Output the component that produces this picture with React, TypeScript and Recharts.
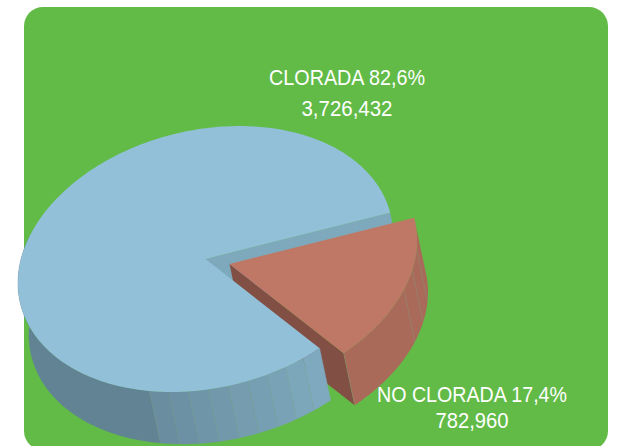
import React from "react";
import { PieChart, Pie } from "recharts";

const categories = ["CLORADA", "NO CLORADA"];
const values = [3726432, 782960];

const chartData = categories.map((name, i) => ({ name, value: values[i] }));

const W = 622;
const H = 446;
const CX = 205.5;
const CY = 259;
const R = 187.5;
const SHEAR = 0.128; // tilt of the ellipse
const SQUASH = 0.6975;
const DEPTH = { x: 11, y: 52 };
const EXPLODE = { x: 24, y: 5 };

const GREEN = "#62bb47";
const BLUE_TOP = "#91c0d8";
const BLUE_INNER = "#7ea8bc";
const RED_TOP = "#bf7865";
const RED_INNER = "#824f44";
const RED_WALL = "#a96a5a";
const SEAM = "#7f9f7f";
const FONT = "'Liberation Sans', sans-serif";

type Pt = { x: number; y: number };

const project = (cx: number, cy: number, r: number, deg: number, o: Pt = { x: 0, y: 0 }): Pt => {
  const t = (deg * Math.PI) / 180;
  return {
    x: cx + o.x + r * Math.cos(t),
    y: cy + o.y - SHEAR * r * Math.cos(t) - SQUASH * r * Math.sin(t),
  };
};

const arcPts = (cx: number, cy: number, r: number, a1: number, a2: number, o: Pt = { x: 0, y: 0 }) => {
  const n = Math.max(2, Math.ceil(Math.abs(a2 - a1)));
  const pts: Pt[] = [];
  for (let i = 0; i <= n; i++) pts.push(project(cx, cy, r, a1 + ((a2 - a1) * i) / n, o));
  return pts;
};

const toPath = (pts: Pt[]) =>
  pts.map((p, i) => `${i ? "L" : "M"}${p.x.toFixed(2)} ${p.y.toFixed(2)}`).join("") + "Z";

const shifted = (p: Pt, o: Pt): Pt => ({ x: p.x + o.x, y: p.y + o.y });

const mix = (a: number[], b: number[], t: number) =>
  `rgb(${a.map((v, i) => Math.round(v + (b[i] - v) * t)).join(",")})`;

const wallPath = (cx: number, cy: number, r: number, a1: number, a2: number, o: Pt = { x: 0, y: 0 }) => {
  const top = arcPts(cx, cy, r, a1, a2, o);
  const bottom = top.map((p) => shifted(p, DEPTH)).reverse();
  return toPath([...top, ...bottom]);
};

const facetLine = (cx: number, cy: number, r: number, a: number, o: Pt = { x: 0, y: 0 }) => {
  const p = project(cx, cy, r, a, o);
  const q = shifted(p, DEPTH);
  return `M${p.x.toFixed(2)} ${p.y.toFixed(2)}L${q.x.toFixed(2)} ${q.y.toFixed(2)}`;
};

const renderLayer = (layer: number) => (props: any) => {
  const { cx, cy, outerRadius: r, startAngle: s, endAngle: e, name } = props;
  const isBlue = name === categories[0];
  if (layer === 0) {
    if (!isBlue) return <g />;
    const c = { x: cx, y: cy };
    const p = project(cx, cy, r, s);
    return (
      <path
        d={toPath([c, p, shifted(p, DEPTH), shifted(c, DEPTH)])}
        fill={BLUE_INNER}
      />
    );
  }
  if (layer === 1) {
    if (isBlue) return <g />;
    const c = { x: cx + EXPLODE.x, y: cy + EXPLODE.y };
    const p = project(cx, cy, r, s, EXPLODE);
    return (
      <g>
        <path d={toPath([c, p, shifted(p, DEPTH), shifted(c, DEPTH)])} fill={RED_INNER} />
        <path d={wallPath(cx, cy, r, s, e, EXPLODE)} fill={RED_WALL} />
        {[s, s + 31, s + 39.5, s + 48.5].map((a) => (
          <path key={a} d={facetLine(cx, cy, r, a, EXPLODE)} stroke={SEAM} strokeWidth={0.6} strokeOpacity={0.6} fill="none" />
        ))}
      </g>
    );
  }
  if (layer === 2) {
    if (!isBlue) return <g />;
    const step = 6.1;
    const bands = 9;
    const light = [127, 169, 190];
    const dark = [106, 142, 160];
    const els: React.ReactNode[] = [];
    const tailStart = e - bands * step;
    els.push(<path key="tail" d={wallPath(cx, cy, r, s + 150, tailStart)} fill="#618394" stroke="#618394" strokeWidth={0.4} />);
    for (let i = bands - 1; i >= 0; i--) {
      const a1 = e - i * step;
      const a2 = e - (i + 1) * step;
      const col = mix(light, dark, i / (bands - 1));
      els.push(<path key={i} d={wallPath(cx, cy, r, a1, a2)} fill={col} stroke={col} strokeWidth={0.4} />);
      els.push(<path key={`l${i}`} d={facetLine(cx, cy, r, a2)} stroke={SEAM} strokeWidth={0.5} strokeOpacity={0.5} fill="none" />);
    }
    return (
      <g>
        {els}
        <path d={toPath([{ x: cx, y: cy }, ...arcPts(cx, cy, r, s, e)])} fill={BLUE_TOP} />
      </g>
    );
  }
  if (isBlue) return <g />;
  return (
    <path
      d={toPath([{ x: cx + EXPLODE.x, y: cy + EXPLODE.y }, ...arcPts(cx, cy, r, s, e, EXPLODE)])}
      fill={RED_TOP}
    />
  );
};

const labelSpots = [
  { x: 347, y1: 85, y2: 116, w1: 156, w2: 91 },
  { x: 472, y1: 402, y2: 428, w1: 190, w2: 73 },
];

const renderLabel = (props: any) => {
  const { index, name, value, percent } = props;
  const spot = labelSpots[index];
  const pct = `${(percent * 100).toFixed(1).replace(".", ",")}%`;
  const common = {
    x: spot.x,
    fill: "#ffffff",
    textAnchor: "middle" as const,
    fontFamily: FONT,
    fontSize: 22.5,
    lengthAdjust: "spacingAndGlyphs" as const,
  };
  return (
    <g key={name}>
      <text {...common} y={spot.y1} textLength={spot.w1}>{`${name} ${pct}`}</text>
      <text {...common} y={spot.y2} textLength={spot.w2}>{value.toLocaleString("en-US")}</text>
    </g>
  );
};

const pieBase = {
  data: chartData,
  dataKey: "value",
  nameKey: "name",
  cx: CX,
  cy: CY,
  innerRadius: 0,
  outerRadius: R,
  startAngle: 10,
  endAngle: 370,
  stroke: "none",
  isAnimationActive: false,
  labelLine: false,
  legendType: "none" as const,
};

export default function App() {
  return (
    <div style={{ position: "absolute", left: 0, top: 0, width: W, height: H, overflow: "hidden", background: "#fff" }}>
      <div
        style={{
          position: "absolute",
          left: 23.5,
          top: 6.5,
          width: 584,
          height: 443,
          borderRadius: 19,
          background: GREEN,
        }}
      />
      <div style={{ position: "absolute", left: 0, top: 0 }}>
        <PieChart width={W} height={H} margin={{ top: 0, right: 0, bottom: 0, left: 0 }}>
          <Pie {...pieBase} shape={renderLayer(0)} />
          <Pie {...pieBase} shape={renderLayer(1)} />
          <Pie {...pieBase} shape={renderLayer(2)} />
          <Pie {...pieBase} shape={renderLayer(3)} label={renderLabel} />
        </PieChart>
      </div>
    </div>
  );
}
